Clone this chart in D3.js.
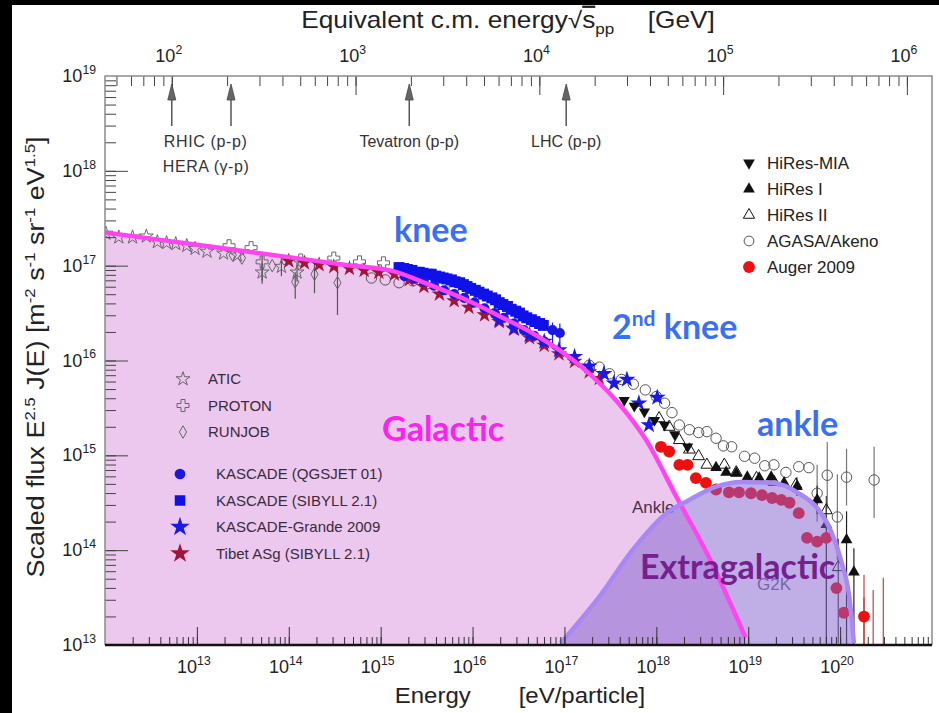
<!DOCTYPE html>
<html>
<head>
<meta charset="utf-8">
<script src="https://cdn.jsdelivr.net/npm/d3@7"></script>
<style>
  body { margin: 0; background: #000; }
  svg { display: block; font-family: "Liberation Sans", Arial, sans-serif; }
  .anno { font-family: Lato, "Open Sans", sans-serif; font-weight: 700; }
</style>
</head>
<body>
<svg id="chart" width="939" height="713"></svg>
<script>
// all values are log10: energy in eV, scaled flux E^2.5 J(E)
// [logE, logF, errDown, errUp]
const galacticCurve = [[12.0,17.35],[13.0,17.22],[14.0,17.09],[14.6,17.01],[15.125,16.945],[15.53,16.80],[15.93,16.64],
  [16.29,16.47],[16.65,16.29],[17.19,15.93],[17.56,15.58],[17.89,15.16],[18.22,14.56],[18.57,13.93],[18.97,13.08]];
const extraCurve = [[16.96,13.02],[17.38,13.51],[17.74,14.00],[18.11,14.39],[18.36,14.53],[18.65,14.67],
  [18.93,14.72],[19.26,14.71],[19.55,14.60],[19.77,14.42],[19.91,14.18],[20.02,13.86],[20.10,13.51],[20.15,13.02]];

const atic = [[12.01,17.34],[12.15,17.30],[12.30,17.30],[12.45,17.31],[12.57,17.25],[12.67,17.24],[12.77,17.23],
  [12.89,17.21],[12.98,17.18],[13.11,17.15],[13.29,17.13],[13.44,17.11],[13.71,16.93,0.12,0.1],[13.92,16.99,0.1,0.1],[14.09,16.93,0.1,0.1]];
const proton = [[13.35,17.21],[13.59,17.19],[13.71,17.04,0.2,0.1],[14.13,17.06],[14.49,17.08],[14.77,17.04],[15.03,17.03]];
const runjob = [[13.39,17.11],[13.49,17.08],[13.82,17.00],[14.07,16.83,0.18,0.1],[14.28,16.91,0.2,0.13],[14.53,16.82,0.34,0.2]];
const kascadeQgs = [[15.26,16.89],[15.37,16.86],[15.47,16.83],[15.58,16.79],[15.69,16.74],[15.80,16.70],[15.91,16.66],
  [16.02,16.61],[16.13,16.55],[16.24,16.50],[16.34,16.45],[16.45,16.39],[16.56,16.32],[16.67,16.26],[16.78,16.20],
  [16.87,16.32,0.15,0.08],[16.95,16.29,0.15,0.1]];
const kascadeSib = [[15.20,16.98],[15.25,16.97],[15.29,16.96],[15.34,16.95],[15.38,16.93],[15.42,16.93],[15.46,16.92],
  [15.51,16.91],[15.55,16.91],[15.60,16.89],[15.64,16.88],[15.68,16.87],[15.72,16.86],[15.77,16.85],[15.81,16.83],
  [15.86,16.82],[15.90,16.80],[15.94,16.78],[15.98,16.76],[16.03,16.74],[16.07,16.72],[16.12,16.70],[16.16,16.68],
  [16.21,16.66],[16.25,16.64],[16.29,16.61],[16.33,16.59],[16.38,16.57],[16.42,16.54],[16.47,16.52],[16.51,16.50],
  [16.55,16.47],[16.59,16.45],[16.64,16.43],[16.68,16.41],[16.73,16.39],[16.77,16.37]];
const grande = [[16.29,16.43],[16.45,16.34],[16.62,16.27],[16.78,16.20],[16.94,16.11],[17.11,16.04],[17.27,15.94],
  [17.43,15.86],[17.54,15.76],[17.68,15.80],[17.81,15.55],[17.92,15.32],[18.01,15.61]];
const tibet = [[14.00,17.05],[14.17,17.03],[14.33,17.01],[14.49,16.99],[14.66,16.97],[14.82,16.95],[14.98,16.93],
  [15.15,16.91],[15.31,16.85],[15.47,16.78],[15.64,16.70],[15.80,16.63],[15.96,16.56],[16.13,16.48],[16.29,16.41],
  [16.45,16.33],[16.62,16.24],[16.78,16.16],[16.94,16.07],[17.11,15.99],[17.27,15.88],[17.38,15.81]];
const hiresMia = [[17.65,15.58],[17.76,15.52],[17.87,15.46],[17.98,15.37],[18.09,15.32],[18.20,15.22],[18.34,15.09]];
const hires1 = [[18.65,14.87],[18.76,14.82],[18.87,14.81],[18.99,14.77],[19.12,14.76],[19.25,14.77],[19.39,14.71],
  [19.53,14.67,0.1,0.1],[19.75,14.53,0.15,0.15],[19.85,14.27,1.25,0.2],[20.07,14.11,1.1,0.3],[20.15,13.77,0.77,0.25]];
const hires2 = [[18.03,15.39],[18.14,15.30],[18.25,15.16],[18.36,15.06],[18.46,14.99],[18.55,14.90],[18.74,14.90],
  [18.87,14.82],[19.09,14.76],[19.28,14.72],[19.52,14.69],[19.85,14.42,0.2,0.15],[19.98,13.82,0.8,0.3]];
const agasa = [[14.90,16.87],[15.05,16.85],[15.20,16.82],[15.35,16.84],[15.51,16.81],[15.66,16.82],[15.80,16.77],
  [17.27,15.95],[17.38,15.93],[17.49,15.86],[17.62,15.80],[17.75,15.75],[17.88,15.69],[18.00,15.62],[18.09,15.55],
  [18.17,15.45],[18.25,15.32],[18.36,15.27],[18.46,15.24],[18.55,15.25],[18.65,15.18],[18.73,15.10],[18.82,15.09],
  [18.96,14.99],[19.07,14.97],[19.18,14.89],[19.28,14.90],[19.41,14.82],[19.55,14.88],[19.66,14.87],
  [19.75,14.60,0.3,0.3],[19.86,14.79,0.35,0.35],[19.97,14.35,0.45,0.45],[20.07,14.77,0.3,0.3],[20.37,14.74,0.4,0.35]];
const auger = [[18.05,15.09],[18.14,15.04],[18.25,14.90],[18.34,14.90],[18.43,14.76],[18.54,14.71],[18.65,14.64],
  [18.79,14.61],[18.90,14.61],[19.03,14.60],[19.15,14.58],[19.26,14.55],[19.36,14.53],[19.45,14.50],[19.55,14.39],
  [19.64,14.13],[19.75,14.09],[19.85,14.13],[19.96,13.60],[20.04,13.34],[20.26,13.30,0.3,0.2]];
// Auger upper limits: [logE, top of bar]
const augerLimits = [[20.26,13.74],[20.36,13.58],[20.47,13.71]];

// accelerators on the sqrt(s_pp) axis, GeV
const accelNames = ["RHIC (p-p)", "Tevatron (p-p)", "LHC (p-p)"];
const accelSqrtS = [100, 210, 1960, 14000];

const leftLegendA = ["ATIC", "PROTON", "RUNJOB"];
const leftLegendB = ["KASCADE (QGSJET 01)", "KASCADE (SIBYLL 2.1)", "KASCADE-Grande 2009", "Tibet ASg (SIBYLL 2.1)"];
const rightLegend = ["HiRes-MIA", "HiRes I", "HiRes II", "AGASA/Akeno", "Auger 2009"];

const bottomExps = [13, 14, 15, 16, 17, 18, 19, 20];
const leftExps = [13, 14, 15, 16, 17, 18, 19];
const topExps = [2, 3, 4, 5, 6];

const svg = d3.select('#chart');
const x = d3.scaleLog().domain([1e12, 1e21]).range([105, 932]);
const y = d3.scaleLog().domain([1e13, 1e19]).range([645, 76]);
const mp = 0.938e9;
const sqrtS = e => Math.sqrt(2 * mp * e) / 1e9;
const xs = d3.scaleLog().domain([sqrtS(1e12), sqrtS(1e21)]).range([105, 932]);
const px = d => x(Math.pow(10, d[0]));
const py = d => y(Math.pow(10, d[1]));
const [L, R] = x.range(), [B, T] = y.range();

// background / frame
svg.append('rect').attr('x', 12).attr('y', 5).attr('width', 927).attr('height', 708).attr('fill', '#fff');
svg.append('defs').append('clipPath').attr('id', 'plot')
  .append('rect').attr('x', L).attr('y', T).attr('width', R - L).attr('height', B - T);
const plot = svg.append('g').attr('clip-path', 'url(#plot)');

const curve = d3.curveMonotoneX;
plot.append('path').datum(galacticCurve)
  .attr('d', d3.area().x(px).y0(B).y1(py).curve(curve))
  .attr('fill', '#ecc8ee');

plot.append('text').attr('x', 632).attr('y', 513).attr('font-size', 17).attr('fill', '#4a3050').text('Ankle');
plot.append('text').attr('x', 757).attr('y', 590).attr('font-size', 17).attr('fill', '#6a6a80').text('G2K');

// error bars
function errs(data, color) {
  plot.append('g').selectAll('line').data(data.filter(d => d[2] || d[3])).join('line')
    .attr('x1', px).attr('x2', px)
    .attr('y1', d => y(Math.pow(10, d[1] - (d[2] || 0))))
    .attr('y2', d => y(Math.pow(10, d[1] + (d[3] || 0))))
    .attr('stroke', color).attr('stroke-width', 1.2);
}
function marks(data, type, size, fill, stroke, rot) {
  const sym = d3.symbol().type(type).size(size);
  plot.append('g').selectAll('path').data(data).join('path')
    .attr('d', sym)
    .attr('transform', d => `translate(${px(d)},${py(d)})` + (rot ? ` rotate(${rot})` : ''))
    .attr('fill', fill).attr('stroke', stroke).attr('stroke-width', stroke === 'none' ? 0 : 1);
}

errs(atic, '#555'); errs(proton, '#555'); errs(runjob, '#555');
errs(agasa, '#777'); errs(hires1, '#222'); errs(hires2, '#444');
errs(kascadeQgs, '#1a1ae0'); errs(auger, '#c03030');
plot.append('g').selectAll('line').data(augerLimits).join('line')
  .attr('x1', px).attr('x2', px).attr('y1', py).attr('y2', B)
  .attr('stroke', '#c84040').attr('stroke-width', 1.2);

marks(atic, d3.symbolStar, 60, 'none', '#666');
marks(proton, d3.symbolCross, 80, 'none', '#666');
marks(runjob, d3.symbolDiamond, 45, 'none', '#666');
marks(agasa, d3.symbolCircle, 85, 'none', '#555');
marks(tibet, d3.symbolStar, 80, '#a0153a', 'none');
marks(kascadeSib, d3.symbolSquare, 120, '#1010e8', 'none');
marks(kascadeQgs, d3.symbolCircle, 80, '#1818e0', 'none');
marks(grande, d3.symbolStar, 90, '#1a1ae6', 'none');
marks(hiresMia, d3.symbolTriangle, 55, '#111', 'none', 180);
marks(hires2, d3.symbolTriangle, 60, 'none', '#111');
marks(hires1, d3.symbolTriangle, 60, '#111', 'none');
marks(auger, d3.symbolCircle, 110, '#ee1010', 'none');

// extragalactic component drawn over the data
plot.append('path').datum(extraCurve)
  .attr('d', d3.area().x(px).y0(B).y1(py).curve(curve))
  .attr('fill', 'rgb(130,95,205)').attr('fill-opacity', 0.5);
plot.append('path').datum(galacticCurve)
  .attr('d', d3.line().x(px).y(py).curve(curve))
  .attr('fill', 'none').attr('stroke', '#ff44f0').attr('stroke-width', 4.5);
plot.append('path').datum(extraCurve)
  .attr('d', d3.line().x(px).y(py).curve(curve))
  .attr('fill', 'none').attr('stroke', '#a888f4').attr('stroke-width', 4.5);

// axes ticks
function logTicks(lo, hi) {
  const out = [];
  for (let n = lo; n <= hi; n++) for (let k = 1; k < 10; k++) out.push(k * Math.pow(10, n));
  return out;
}
const isDecade = v => Math.abs(Math.log10(v) - Math.round(Math.log10(v))) < 1e-9;
const bMinor = logTicks(12, 20).filter(v => v > 1e12 && v < 1e21);
const bMajor = bMinor.filter(isDecade);
function tickAxis(axis, vals, size, tr, color) {
  const g = svg.append('g').attr('transform', tr)
    .call(axis.tickValues(vals).tickSize(size).tickFormat(''));
  g.select('.domain').remove();
  g.selectAll('line').attr('stroke', color);
}
tickAxis(d3.axisBottom(x), bMinor, -8, `translate(0,${B})`, '#333');
tickAxis(d3.axisBottom(x), bMajor, -18, `translate(0,${B})`, '#333');
const lMinor = logTicks(13, 18);
const lMajor = lMinor.filter(isDecade);
tickAxis(d3.axisLeft(y), lMinor, -11, `translate(${L},0)`, '#444');
tickAxis(d3.axisLeft(y), lMajor, -23, `translate(${L},0)`, '#444');
const [s0, s1] = xs.domain();
const tMinor = logTicks(1, 6).filter(v => v > s0 && v < s1);
const tMajor = tMinor.filter(isDecade);
tickAxis(d3.axisTop(xs), tMinor, -10, `translate(0,${T})`, '#444');
tickAxis(d3.axisTop(xs), tMajor, -19, `translate(0,${T})`, '#444');

// frame
svg.append('path').attr('d', `M${L},${B}V${T}H${R}V${B}`).attr('fill', 'none').attr('stroke', '#8a8a8a').attr('stroke-width', 1.5);
svg.append('line').attr('x1', L).attr('x2', R).attr('y1', B).attr('y2', B).attr('stroke', '#111').attr('stroke-width', 2.5);

// tick labels
function powLabel(g, xp, yp, exp, anchor, size) {
  const t = g.append('text').attr('x', xp).attr('y', yp).attr('text-anchor', anchor)
    .attr('font-size', size).attr('fill', '#222');
  t.append('tspan').text('10');
  t.append('tspan').attr('dy', -size * 0.45).attr('font-size', size * 0.68).text(exp);
  return t;
}
const lab = svg.append('g');
bottomExps.forEach(e => powLabel(lab, x(Math.pow(10, e)) - 3, 673, e, 'middle', 18));
leftExps.forEach(e => powLabel(lab, 96, y(Math.pow(10, e)) + 6, e, 'end', 18));
topExps.forEach(e => powLabel(lab, xs(Math.pow(10, e)) - 3, 62, e, 'middle', 18));

// axis titles (the source figure is stretched horizontally)
const tt = svg.append('g').attr('transform', 'translate(508,28) scale(1.14,1)')
  .append('text').attr('text-anchor', 'middle').attr('font-size', 23).attr('fill', '#222');
tt.append('tspan').text('Equivalent c.m. energy\u221A');
tt.append('tspan').attr('text-decoration', 'overline').text('s');
tt.append('tspan').attr('dy', 6).attr('font-size', 15).text('pp');
tt.append('tspan').attr('dy', -6).text('\u2003 [GeV]');

const bt = svg.append('g').attr('transform', 'translate(520,703) scale(1.09,1)')
  .append('text').attr('text-anchor', 'middle').attr('font-size', 22).attr('fill', '#222');
bt.text('Energy\u2003\u2003[eV/particle]');

const yt = svg.append('g').attr('transform', 'translate(44,357) rotate(-90) scale(1.12,1)')
  .append('text').attr('text-anchor', 'middle').attr('font-size', 24).attr('fill', '#222');
const ytParts = [['Scaled flux  E', '2.5'], [' J(E)  [m', '-2'], [' s', '-1'], [' sr', '-1'], [' eV', '1.5'], [']', null]];
ytParts.forEach((p, i) => {
  yt.append('tspan').attr('dy', i ? 9 : 0).text(p[0]);
  if (p[1]) yt.append('tspan').attr('dy', -9).attr('font-size', 15).text(p[1]);
});

// accelerator arrows
const arrows = svg.append('g');
accelSqrtS.forEach(s => {
  const ax = xs(s);
  arrows.append('line').attr('x1', ax).attr('x2', ax).attr('y1', 95).attr('y2', 126).attr('stroke', '#555').attr('stroke-width', 1.5);
  arrows.append('path').attr('d', `M${ax},${84}L${ax - 4},${100}L${ax + 4},${100}Z`).attr('fill', '#666').attr('stroke', '#444').attr('stroke-width', 0.8);
});
const atxt = svg.append('g').attr('font-size', 16).attr('fill', '#333');
atxt.append('text').attr('x', xs(accelSqrtS[0]) - 8).attr('y', 147).attr('textLength', 83).text(accelNames[0]);
atxt.append('text').attr('x', xs(accelSqrtS[0]) - 9).attr('y', 172).attr('textLength', 86).text('HERA (\u03B3-p)');
atxt.append('text').attr('x', xs(accelSqrtS[2])).attr('y', 147).attr('text-anchor', 'middle').text(accelNames[1]);
atxt.append('text').attr('x', xs(accelSqrtS[3])).attr('y', 147).attr('text-anchor', 'middle').text(accelNames[2]);

// legends
function legendMark(g, cx, cy, type, size, fill, stroke, rot) {
  g.append('path').attr('d', d3.symbol().type(type).size(size)())
    .attr('transform', `translate(${cx},${cy})` + (rot ? ` rotate(${rot})` : ''))
    .attr('fill', fill).attr('stroke', stroke).attr('stroke-width', stroke === 'none' ? 0 : 1);
}
const lg = svg.append('g').attr('font-size', 15).attr('fill', '#3a2a3c');
const styleA = [[d3.symbolStar, 60, 'none', '#666'], [d3.symbolCross, 80, 'none', '#666'], [d3.symbolDiamond, 45, 'none', '#666']];
leftLegendA.forEach((n, i) => {
  const cy = 379 + i * 26.5;
  legendMark(lg, 183, cy, ...styleA[i]);
  lg.append('text').attr('x', 208).attr('y', cy + 5).text(n);
});
const styleB = [[d3.symbolCircle, 90, '#1818e0', 'none'], [d3.symbolSquare, 110, '#1010e8', 'none'],
  [d3.symbolStar, 120, '#1a1ae6', 'none'], [d3.symbolStar, 120, '#a0153a', 'none']];
leftLegendB.forEach((n, i) => {
  const cy = 474 + i * 26.5;
  legendMark(lg, 180, cy, ...styleB[i]);
  lg.append('text').attr('x', 216).attr('y', cy + 5).text(n);
});
const rg = svg.append('g').attr('font-size', 17).attr('fill', '#222');
const styleR = [[d3.symbolTriangle, 60, '#111', 'none', 180], [d3.symbolTriangle, 60, '#111', 'none'],
  [d3.symbolTriangle, 55, 'none', '#111'], [d3.symbolCircle, 75, 'none', '#555'], [d3.symbolCircle, 110, '#ee1010', 'none']];
rightLegend.forEach((n, i) => {
  const cy = 163 + i * 26;
  legendMark(rg, 749, cy, ...styleR[i]);
  rg.append('text').attr('x', 767).attr('y', cy + 6).text(n);
});

// annotations
const an = svg.append('g').attr('class', 'anno').attr('font-size', 34);
an.append('text').attr('x', 394).attr('y', 242).attr('fill', '#3a6ef5').text('knee');
const k2 = an.append('text').attr('x', 612).attr('y', 339).attr('fill', '#3a6ef5');
k2.append('tspan').text('2');
k2.append('tspan').attr('dy', -13).attr('font-size', 21).text('nd');
k2.append('tspan').attr('dy', 13).text(' knee');
an.append('text').attr('x', 757).attr('y', 436).attr('fill', '#3a6ef5').text('ankle');
an.append('text').attr('x', 382).attr('y', 441).attr('fill', '#ff22ee').text('Galactic');
an.append('text').attr('x', 640).attr('y', 579).attr('fill', '#76208f').text('Extragalactic');
</script>
</body>
</html>
